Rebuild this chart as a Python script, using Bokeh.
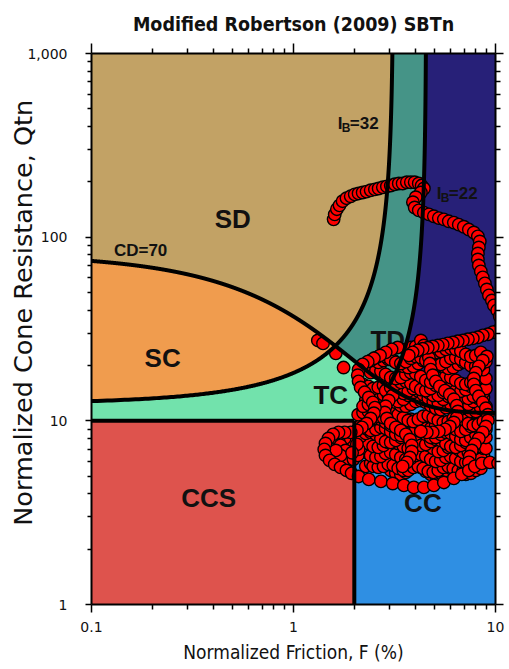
import numpy as np
from bokeh.plotting import figure
from bokeh.models import (LogAxis, FixedTicker, NumeralTickFormatter, ColumnDataSource,
                          CustomLabelingPolicy)
from bokeh.core.properties import value
from bokeh.embed import file_html
from bokeh.resources import INLINE

# ---------------- chart definition ----------------
x_major = [0.1, 1, 10]
y_major = [1, 10, 100, 1000]

cd_level = 70      # CD = 70 contour
ib_sand = 32       # IB = 32 contour
ib_clay = 22       # IB = 22 contour
q_split = 10       # Qtn = 10 horizontal boundary
f_split = 2        # F = 2 vertical boundary

zone_text = ["SD", "SC", "TC", "TD", "CCS", "CC"]
zone_F = [0.50, 0.225, 1.53, 2.93, 0.38, 4.37]
zone_Q = [126, 21.9, 13.75, 27.4, 3.78, 3.55]

# ---------------- CPT data (F %, Qtn) ----------------
upper_F = [1.58, 1.60, 1.64, 1.69, 1.75, 1.83, 1.92, 2.01, 2.10, 2.20, 2.30, 2.41, 2.53, 2.64, 2.77,
           2.90, 3.03, 3.17, 3.32, 3.47, 3.64, 3.81, 3.98, 4.17, 4.31, 4.42, 4.27, 4.03, 3.90, 3.98,
           4.17, 4.42, 4.68, 4.95, 5.24, 5.55, 5.87, 6.22, 6.58, 6.97, 7.38, 7.81, 8.18, 8.36, 8.27,
           8.18, 8.18, 8.27, 8.46, 8.65, 8.86, 9.06, 9.28, 9.60, 9.82, 10.2, 10.5]
upper_Q = [125, 133, 142, 149, 157, 163, 167, 171, 173, 175, 177, 180, 182, 184, 187,
           189, 191, 194, 196, 196, 199, 199, 199, 196, 191, 184, 175, 165, 155, 145,
           140, 136, 133, 130, 127, 125, 122, 120, 117, 114, 110, 106, 101, 94.7, 87.9,
           81.5, 75.6, 70.1, 65.1, 60.4, 56.0, 51.9, 48.2, 45.2, 42.5, 39.9, 37.0]

return_F = [11.0, 10.3, 9.71, 9.17, 8.65, 8.18, 7.72, 7.30, 6.89, 6.50, 6.15, 5.80, 5.48, 5.18, 4.89,
            4.62, 4.36, 4.12, 3.89, 3.72]
return_Q = [31.9, 31.1, 30.4, 29.6, 29.2, 28.5, 28.1, 27.8, 27.4, 27.1, 26.7, 26.4, 26.0, 25.7, 25.4,
            25.0, 24.7, 24.2, 23.6, 22.7]

tc_F = [1.32, 1.40, 1.62, 1.77]
tc_Q = [27.4, 26.4, 23.3, 19.5]

loop_F = [3.28, 3.06, 2.86, 2.68, 2.50, 2.33, 2.20, 2.10, 2.08, 2.10, 2.15, 2.25, 2.36, 2.47, 2.53,
          2.50, 2.41, 2.30, 2.18, 2.06, 1.92, 1.79, 1.67, 1.57, 1.49, 1.44, 1.42, 1.44, 1.51, 1.60,
          1.71, 1.83, 1.94, 2.10, 2.36, 2.71, 3.10, 3.52, 3.94, 4.42, 4.95, 5.55, 6.22, 6.81, 7.38,
          7.90, 8.56, 9.38, 10.3]
loop_Q = [25.1, 24.5, 23.6, 22.7, 21.9, 21.0, 20.3, 19.0, 17.7, 16.4, 15.2, 14.3, 13.4, 12.6, 11.8,
          11.0, 10.3, 9.68, 9.21, 8.87, 8.65, 8.65, 8.65, 8.44, 8.02, 7.53, 6.99, 6.48, 6.09, 5.79,
          5.58, 5.37, 5.18, 4.98, 4.80, 4.68, 4.56, 4.45, 4.34, 4.34, 4.45, 4.62, 4.86, 5.11, 5.37,
          5.65, 5.87, 5.94, 5.87]

blob_F = [1.92, 1.79, 1.67, 1.58, 1.53, 1.55, 1.62, 1.73, 1.85, 1.98, 2.08, 2.10, 2.06,
          1.71, 1.81, 1.71, 1.62, 1.95]
blob_Q = [7.82, 8.02, 7.82, 7.44, 6.99, 6.48, 6.17, 6.01, 6.01, 6.17, 6.48, 6.99, 7.44,
          7.35, 6.90, 6.48, 6.90, 6.70]

m1_F = [3.60, 3.81, 4.03, 4.27, 4.52, 4.78, 5.06, 5.36, 5.68, 6.01, 6.36, 6.74, 7.13, 7.55, 7.99, 8.46]
m1_Q = [24.5, 25.1, 25.4, 25.1, 24.5, 23.9, 23.6, 23.9, 24.5, 24.8, 24.5, 23.9, 23.0, 22.4, 22.7, 23.6]
m2_F = [2.63, 2.79, 2.95, 3.12, 3.30, 3.50, 3.70, 3.92, 4.15, 4.39, 4.65, 4.92, 5.21, 5.52, 5.84,
        6.18, 6.55, 6.93, 7.34, 7.77, 8.22, 8.71]
m2_Q = [20.8, 21.3, 21.6, 21.3, 20.5, 19.8, 19.5, 19.8, 20.5, 21.3, 21.6, 21.3, 20.5, 19.8, 19.3,
        19.5, 20.3, 20.8, 20.8, 20.3, 19.5, 19.0]
m3_F = [2.41, 2.56, 2.71, 2.86, 3.03, 3.21, 3.40, 3.60, 3.81, 4.03, 4.27, 4.52, 4.78, 5.06, 5.36,
        5.68, 6.01, 6.36, 6.74, 7.13, 7.55, 7.99, 8.46, 8.96]
m3_Q = [18.3, 18.8, 18.6, 17.9, 17.2, 17.0, 17.2, 17.9, 18.3, 18.1, 17.4, 16.6, 16.2, 16.4, 17.0,
        17.4, 17.2, 16.6, 16.0, 15.8, 16.2, 16.8, 17.2, 17.0]
m4_F = [2.21, 2.35, 2.48, 2.63, 2.79, 2.95, 3.12, 3.30, 3.50, 3.70, 3.92, 4.15, 4.39, 4.65, 4.92,
        5.21, 5.52, 5.84, 6.18, 6.55, 6.93, 7.34, 7.77, 8.22, 8.71]
m4_Q = [15.8, 15.4, 15.0, 15.2, 15.6, 15.4, 14.8, 14.3, 14.1, 14.5, 15.0, 15.2, 14.8, 14.3, 13.75,
        13.75, 14.3, 14.6, 14.5, 13.9, 13.4, 13.25, 13.6, 14.1, 14.3]
m5_F = [2.28, 2.41, 2.56, 2.71, 2.86, 3.03, 3.21, 3.40, 3.60, 3.81, 4.03, 4.27, 4.52, 4.78, 5.06,
        5.36, 5.68, 6.01, 6.36, 6.74, 7.13, 7.55, 7.99, 8.46, 8.96]
m5_Q = [12.9, 12.6, 12.75, 13.25, 13.4, 13.1, 12.6, 12.1, 12.0, 12.3, 12.75, 12.9, 12.6, 12.1, 11.7,
        11.5, 11.8, 12.3, 12.4, 12.1, 11.7, 11.25, 11.25, 11.7, 12.0]
m6_F = [2.09, 2.21, 2.35, 2.48, 2.63, 2.79, 2.95, 3.12, 3.30, 3.50, 3.70, 3.92, 4.15, 4.39, 4.65,
        4.92, 5.21, 5.52, 5.84, 6.18, 6.55, 6.93, 7.34, 7.77, 8.22, 8.71]
m6_Q = [10.8, 11.1, 11.25, 11.0, 10.6, 10.4, 10.7, 11.0, 10.8, 10.4, 10.05, 9.92, 10.2, 10.6, 10.7,
        10.4, 10.05, 9.80, 9.92, 10.3, 10.4, 10.2, 9.68, 9.44, 9.56, 9.92]
m7_F = [2.15, 2.28, 2.41, 2.56, 2.71, 2.86, 3.03, 3.21, 3.40, 3.60, 3.81, 4.03, 4.27, 4.52, 4.78,
        5.06, 5.36, 5.68, 6.01, 6.36, 6.74, 7.13, 7.55, 7.99, 8.46, 8.96]
m7_Q = [9.44, 9.09, 8.87, 8.98, 9.21, 9.09, 8.76, 8.44, 8.33, 8.54, 8.87, 8.98, 8.76, 8.44, 8.12,
        8.12, 8.44, 8.65, 8.54, 8.23, 7.92, 7.82, 8.12, 8.44, 8.44, 8.12]
m8_F = [2.09, 2.21, 2.35, 2.48, 2.63, 2.79, 2.95, 3.12, 3.30, 3.50, 3.70, 3.92, 4.15, 4.39, 4.65,
        4.92, 5.21, 5.52, 5.84, 6.18, 6.55, 6.93, 7.34, 7.77, 8.22, 8.71]
m8_Q = [7.82, 7.72, 7.53, 7.26, 7.17, 7.35, 7.63, 7.72, 7.53, 7.26, 7.08, 7.17, 7.44, 7.53, 7.35,
        7.08, 6.81, 6.90, 7.17, 7.26, 6.99, 6.73, 6.73, 6.99, 7.17, 7.08]
m9_F = [2.28, 2.41, 2.56, 2.71, 2.86, 3.03, 3.21, 3.40, 3.60, 3.81, 4.03, 4.27, 4.52, 4.78, 5.06,
        5.36, 5.68, 6.01, 6.36, 6.74, 7.13, 7.55, 7.99, 8.46]
m9_Q = [6.73, 6.48, 6.32, 6.40, 6.65, 6.73, 6.56, 6.32, 6.17, 6.24, 6.48, 6.56, 6.40, 6.17, 6.01,
        6.09, 6.32, 6.40, 6.24, 6.01, 5.94, 6.09, 6.24, 6.24]
m10_F = [2.48, 2.63, 2.79, 2.95, 3.12, 3.30, 3.50, 3.70, 3.92, 4.15, 4.39, 4.65, 4.92, 5.21, 5.52,
         5.84, 6.18, 6.55, 6.93, 7.34]
m10_Q = [5.65, 5.58, 5.65, 5.79, 5.72, 5.51, 5.37, 5.37, 5.58, 5.65, 5.51, 5.31, 5.24, 5.37, 5.58,
         5.65, 5.51, 5.37, 5.37, 5.58]
m11_F = [2.21, 2.35, 2.48, 2.63, 2.79, 2.95, 3.12, 3.30, 3.50, 3.70, 3.92, 4.15, 4.39, 4.65, 4.92,
         5.21, 5.52, 5.84, 6.18, 6.55, 6.93, 7.34, 7.77, 8.22, 8.71]
m11_Q = [12.0, 12.3, 12.9, 13.6, 13.9, 13.75, 13.25, 12.75, 13.1, 13.75, 14.3, 14.5, 13.9, 13.25, 12.75,
         12.6, 13.1, 13.6, 13.4, 12.75, 12.3, 12.3, 12.75, 13.25, 13.4]
m12_F = [2.28, 2.41, 2.56, 2.71, 2.86, 3.03, 3.21, 3.40, 3.60, 3.81, 4.03, 4.27, 4.52, 4.78, 5.06,
         5.36, 5.68, 6.01, 6.36, 6.74, 7.13, 7.55, 7.99, 8.46, 8.96]
m12_Q = [9.68, 10.05, 10.3, 10.2, 9.80, 9.44, 9.32, 9.56, 9.92, 10.2, 9.92, 9.44, 9.09, 9.09, 9.44,
         9.80, 9.80, 9.44, 8.98, 8.76, 8.98, 9.32, 9.56, 9.32, 8.98]
m13_F = [2.09, 2.21, 2.35, 2.48, 2.63, 2.79, 2.95, 3.12, 3.30, 3.50, 3.70, 3.92, 4.15, 4.39, 4.65,
         4.92, 5.21, 5.52, 5.84, 6.18, 6.55, 6.93, 7.34, 7.77, 8.22, 8.71]
m13_Q = [7.17, 6.90, 6.73, 6.81, 7.08, 7.17, 6.99, 6.65, 6.48, 6.56, 6.81, 6.99, 6.90, 6.65, 6.32,
         6.24, 6.40, 6.65, 6.73, 6.56, 6.24, 6.09, 6.17, 6.40, 6.56, 6.48]
m14_F = [2.41, 2.56, 2.71, 2.86, 3.03, 3.21, 3.40, 3.60, 3.81, 4.03, 4.27, 4.52, 4.78, 5.06, 5.36,
         5.68, 6.01, 6.36, 6.74, 7.13, 7.55, 7.99, 8.46, 8.96]
m14_Q = [21.3, 22.1, 22.7, 22.4, 21.6, 20.8, 20.5, 21.0, 21.9, 22.4, 22.1, 21.3, 20.5, 20.0, 20.3,
         21.0, 21.9, 22.1, 21.6, 20.8, 20.0, 19.8, 20.3, 21.0]
m15_F = [2.15, 2.28, 2.41, 2.56, 2.71, 2.86, 3.03, 3.21, 3.40, 3.60, 3.81, 4.03, 4.27, 4.52, 4.78,
         5.06, 5.36, 5.68, 6.01, 6.36, 6.74, 7.13, 7.55, 7.99, 8.46, 8.96]
m15_Q = [8.23, 8.54, 8.65, 8.44, 8.02, 7.72, 7.63, 7.82, 8.12, 8.23, 8.02, 7.63, 7.35, 7.44, 7.72,
         7.92, 7.82, 7.53, 7.26, 7.17, 7.35, 7.63, 7.72, 7.53, 7.26, 7.08]
m16_F = [2.28, 2.41, 2.56, 2.71, 2.86, 3.03, 3.21, 3.40, 3.60, 3.81, 4.03, 4.27, 4.52, 4.78, 5.06,
         5.36, 5.68, 6.01, 6.36, 6.74, 7.13, 7.55, 7.99, 8.46]
m16_Q = [5.65, 5.87, 6.01, 5.94, 5.65, 5.37, 5.18, 5.11, 5.24, 5.51, 5.65, 5.58, 5.31, 5.11, 5.04,
         5.18, 5.37, 5.51, 5.44, 5.24, 5.11, 5.18, 5.37, 5.51]
m17_F = [2.86, 3.03, 3.21, 3.40, 3.60, 3.81, 4.03, 4.27, 4.52, 4.78, 5.06, 5.36, 5.68, 6.01, 6.36,
         6.74, 7.13, 7.55, 7.99, 8.46, 8.96]
m17_Q = [14.6, 15.2, 15.8, 16.2, 16.4, 16.0, 15.4, 14.8, 14.6, 15.0, 15.6, 16.0, 15.8, 15.2, 14.6,
         14.5, 14.8, 15.4, 15.8, 15.6, 15.0]
d1_F = [4.27, 4.42, 4.57, 4.68, 4.73, 4.78, 4.89, 5.06, 5.30, 5.62, 5.94, 6.22, 6.43, 6.51, 6.43,
        6.22, 5.94, 5.62, 5.24, 4.89, 4.57, 4.27]
d1_Q = [27.4, 25.7, 23.9, 22.1, 20.5, 19.0, 17.7, 16.4, 15.4, 14.6, 13.9, 13.1, 12.1, 11.25, 10.4,
        9.80, 9.32, 8.98, 8.76, 8.65, 8.65, 8.76]
d2_F = [9.06, 8.65, 8.27, 7.99, 7.81, 7.81, 7.99, 8.27, 8.65, 8.96, 9.17, 9.17, 8.96, 8.65, 8.27,
        7.90, 7.64, 7.46, 7.38]
d2_Q = [22.4, 21.3, 19.8, 18.3, 17.0, 15.8, 14.6, 13.6, 12.6, 11.7, 10.8, 10.05, 9.32, 8.65, 8.02,
        7.44, 6.90, 6.40, 5.94]
d3_F = [3.10, 2.96, 2.86, 2.83, 2.90, 3.03, 3.21, 3.40, 3.60, 3.77, 3.85, 3.85, 3.77, 3.64, 3.47]
d3_Q = [13.75, 12.9, 12.0, 11.1, 10.3, 9.68, 9.21, 8.87, 8.44, 7.92, 7.35, 6.81, 6.32, 5.94, 5.65]

segments = [(m16_F, m16_Q), (m10_F, m10_Q), (m13_F, m13_Q), (m9_F, m9_Q), (m8_F, m8_Q),
            (m15_F, m15_Q), (m7_F, m7_Q), (m12_F, m12_Q), (m6_F, m6_Q), (m5_F, m5_Q),
            (m11_F, m11_Q), (m4_F, m4_Q), (m17_F, m17_Q), (m3_F, m3_Q), (m2_F, m2_Q),
            (m14_F, m14_Q), (m1_F, m1_Q), (d3_F, d3_Q), (d2_F, d2_Q), (d1_F, d1_Q),
            (blob_F, blob_Q), (loop_F, loop_Q), (tc_F, tc_Q), (return_F, return_Q),
            (upper_F, upper_Q)]
cpt_F = [f for seg in segments for f in seg[0]]
cpt_Q = [q for seg in segments for q in seg[1]]

# ---------------- colours ----------------
C_SD = "#C2A265"
C_SC = "#F09C4E"
C_TC = "#72E2AC"
C_TD = "#459487"
C_CD = "#272078"
C_CCS = "#DE534D"
C_CC = "#2F8FE3"

# ---------------- boundary curves ----------------
def q_cd(F):
    return 11.0 + cd_level / (1.0 + 0.06 * F) ** 17


def q_ib(F, ib):
    den = 100.0 - ib * F
    out = np.full(F.shape, np.inf)
    ok = den > 0
    out[ok] = (70.0 * ib - 1000.0) / den[ok]
    return out


def f_ib(Q, ib):
    return (100.0 * (Q + 10.0) / ib - 70.0) / Q


FL, FR = x_major[0], x_major[-1]
QB, QT = y_major[0], y_major[-1]

F = np.unique(np.concatenate([np.logspace(np.log10(FL), np.log10(FR), 4001), [f_split]]))
qc = q_cd(F)
q32 = np.minimum(q_ib(F, ib_sand), QT)
q22 = np.minimum(q_ib(F, ib_clay), QT)


def band(lo, hi):
    lo = np.clip(lo, QB, QT)
    hi = np.clip(hi, QB, QT)
    return lo, np.maximum(lo, hi)


# ---------------- figure ----------------
COND = "'DejaVu Sans Condensed', 'Liberation Sans', sans-serif"
p = figure(width=509, height=669, x_axis_type="log", y_axis_type="log",
           x_range=(FL, FR), y_range=(QB, QT), output_backend="svg", toolbar_location=None,
           min_border_left=91, min_border_right=14, min_border_top=53, min_border_bottom=65,
           title="Modified Robertson (2009) SBTn")
p.xgrid.visible = False
p.ygrid.visible = False
p.outline_line_color = None
p.background_fill_color = "white"

p.title.align = "center"
p.title.text_font = COND
p.title.text_font_size = "19.5px"
p.title.text_font_style = "bold"
p.title.text_color = "#111111"
p.title.standoff = 16

# zone fills
fills = [
    (band(np.maximum(qc, q32), np.full_like(F, QT)), C_SD),
    (band(np.maximum(qc, q22), q32), C_TD),
    (band(qc, q22), C_CD),
    (band(q32, qc), C_SC),
    (band(np.maximum(q_split, q22), np.minimum(qc, q32)), C_TC),
]
for (lo, hi), col in fills:
    p.varea(x=F, y1=lo, y2=hi, fill_color=col)

mr = F >= f_split
lo, hi = band(np.full(mr.sum(), QB), np.maximum(q_split, np.minimum(qc[mr], q22[mr])))
p.varea(x=F[mr], y1=lo, y2=hi, fill_color=C_CC)
ml = F <= f_split
p.varea(x=F[ml], y1=np.full(ml.sum(), QB), y2=np.full(ml.sum(), q_split), fill_color=C_CCS)

# zone labels
p.text(x=zone_F, y=zone_Q, text=zone_text, text_font=value("Liberation Sans"),
       text_font_style="bold", text_font_size="26px", text_align="center",
       text_baseline="middle", text_color="#111111")

# CPT points
src = ColumnDataSource(dict(F=cpt_F, Q=cpt_Q))
p.scatter(x="F", y="Q", source=src, size=12.5, fill_color="#FF0000", line_color="black",
          line_width=1.4)

# boundary lines
LW = 4
p.line(F, qc, line_color="black", line_width=LW, line_join="round")
Qa = np.logspace(np.log10(q_ib(np.array([FL]), ib_sand)[0]), np.log10(QT), 2000)
p.line(f_ib(Qa, ib_sand), Qa, line_color="black", line_width=LW, line_join="round")
Qb = np.logspace(np.log10(q_split), np.log10(QT), 4000)
Fb = f_ib(Qb, ib_clay)
keep = Qb >= q_cd(Fb)
p.line(Fb[keep], Qb[keep], line_color="black", line_width=LW, line_join="round")
p.line([FL, f_split], [q_split, q_split], line_color="black", line_width=LW)
p.line([f_split, f_split], [QB, q_split], line_color="black", line_width=LW)

# contour annotations
p.text(x=[0.175], y=[84.6], text=["CD=70"], text_font=value("Liberation Sans"),
       text_font_style="bold", text_font_size="17px", text_align="center",
       text_baseline="middle", text_color="#111111")
for fx, qy, num in [(1.656, 416, "=32"), (5.12, 173, "=22")]:
    p.text(x=[fx], y=[qy], text=["I"], text_font=value("Liberation Sans"), text_font_style="bold",
           text_font_size="17px", text_align="left", text_baseline="middle", text_color="#111111")
    p.text(x=[fx], y=[qy], text=["B"], text_font=value("Liberation Sans"), text_font_style="bold",
           text_font_size="12px", text_align="left", text_baseline="middle", text_color="#111111",
           x_offset=4, y_offset=5)
    p.text(x=[fx], y=[qy], text=[num], text_font=value("Liberation Sans"), text_font_style="bold",
           text_font_size="17px", text_align="left", text_baseline="middle", text_color="#111111",
           x_offset=12)

# axes
x_minor = [m * 10.0 ** e for e in (-1, 0) for m in range(2, 10)]
y_minor = [m * 10.0 ** e for e in (0, 1, 2) for m in range(2, 10)]

no_labels = CustomLabelingPolicy(code="""
const out = indices.clone()
for (const i of indices) out.unset(i)
return out
""")


def style_axis(ax, ticks, minor, t_out, m_out, show):
    ax.ticker = FixedTicker(ticks=ticks, minor_ticks=minor)
    ax.formatter = NumeralTickFormatter(format="0,0.[0]")
    ax.axis_line_width = 2
    ax.axis_line_color = "black"
    ax.major_tick_line_color = "black"
    ax.minor_tick_line_color = "black"
    ax.major_tick_line_width = 1.5
    ax.minor_tick_line_width = 1.5
    ax.major_tick_in = 0
    ax.minor_tick_in = 0
    ax.major_tick_out = t_out
    ax.minor_tick_out = m_out
    ax.major_label_text_font = "DejaVu Sans"
    ax.major_label_text_font_size = "14px" if show else "0px"
    ax.major_label_text_color = "#111111"
    if not show:
        ax.major_label_standoff = 0
        ax.major_label_policy = no_labels


xb = p.below[0]
yl = p.left[0]
style_axis(xb, x_major, x_minor, 8, 5, True)
style_axis(yl, y_major, y_minor, 6, 4, True)
xb.major_label_standoff = 9
yl.major_label_standoff = 18

xb.axis_label = "Normalized Friction, F (%)"
xb.axis_label_text_font = COND
xb.axis_label_text_font_size = "19px"
xb.axis_label_text_font_style = "normal"
xb.axis_label_text_color = "#111111"
xb.axis_label_standoff = 6

yl.axis_label = "\u00a0\u00a0\u00a0\u00a0Normalized Cone Resistance, Qtn"
yl.axis_label_text_font = "DejaVu Sans"
yl.axis_label_text_font_size = "25.5px"
yl.axis_label_text_font_style = "normal"
yl.axis_label_text_color = "#111111"
yl.axis_label_standoff = -14

xt = LogAxis()
style_axis(xt, x_major, x_minor, 10, 5, False)
p.add_layout(xt, "above")
yr = LogAxis()
style_axis(yr, y_major, y_minor, 8, 5, False)
p.add_layout(yr, "right")

open("out.html", "w").write(file_html(p, INLINE))
